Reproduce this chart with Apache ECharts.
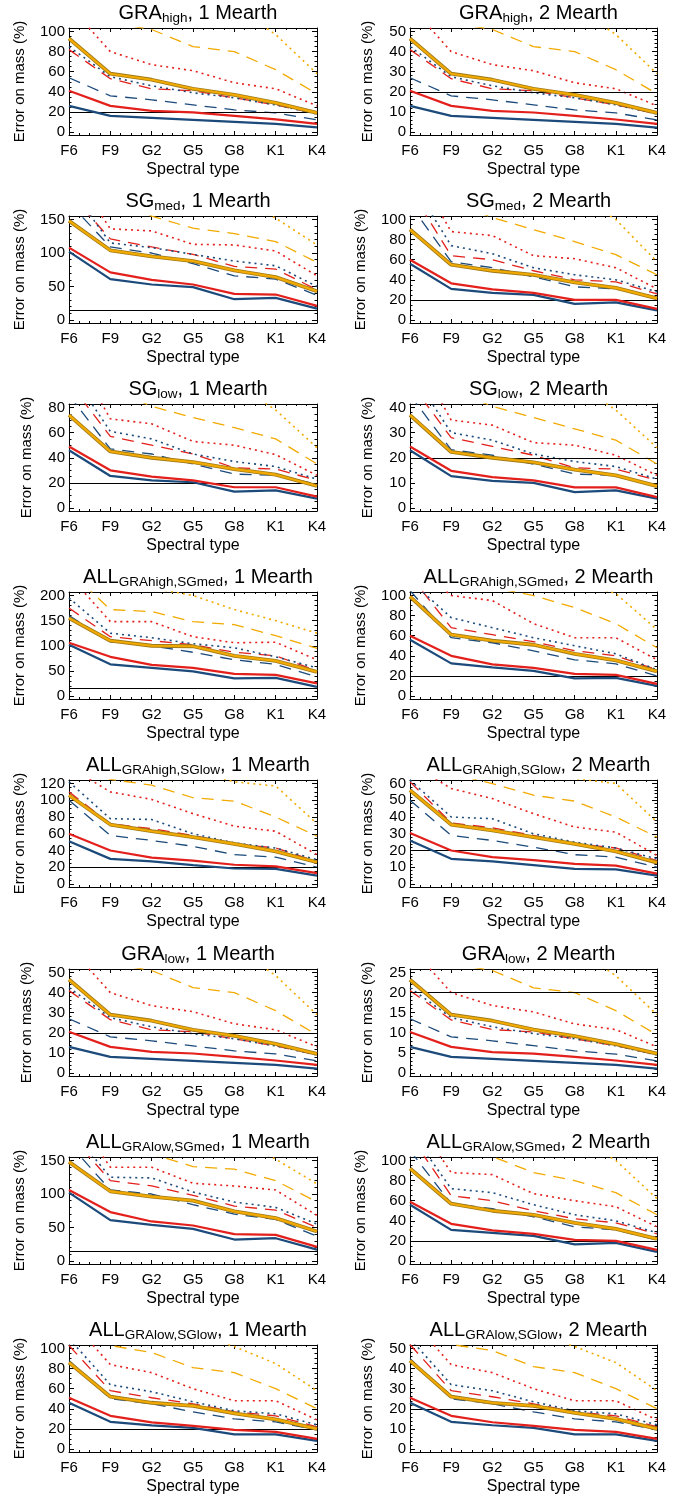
<!DOCTYPE html>
<html><head><meta charset="utf-8">
<script src="https://cdn.jsdelivr.net/npm/echarts@6/dist/echarts.min.js"></script>
<style>html,body{margin:0;padding:0;background:#fff}#c{width:694px;height:1502px}</style>
</head><body><div id="c"></div>
<script>
// ---------------- DATA ----------------
const categories = ['F6','F9','G2','G5','G8','K1','K4'];
// curve order inside each panel array:
// navy solid, red solid, navy dashed, red dashed, navy dotted, red dotted, orange solid, orange dashed, orange dotted
const GRAhigh_1 = [
  [26, 16, 14, 12, 10, 8, 4.5],
  [41, 26, 21, 19.5, 16, 12.5, 8],
  [54, 36, 32, 27, 22, 19, 12],
  [82, 53, 43, 41, 34, 27, 18],
  [85, 55, 46, 39, 34, 27, 18],
  [126, 80, 67, 61, 49, 43, 26],
  [93, 58, 52, 43, 37, 29, 19],
  [150, 109, 102, 85, 80, 62, 38],
  [250, 200, 160, 140, 125, 97, 58]
];
const GRAhigh_2 = [
  [13, 8, 7, 6, 5, 4, 2.2],
  [20.5, 13, 10.5, 9.7, 8, 6.2, 4],
  [27, 18, 16, 13.5, 11, 9.5, 6],
  [41, 26.5, 21.5, 20.5, 17, 13.5, 9],
  [42.5, 27.5, 23, 19.5, 17, 13.5, 9],
  [63, 40, 33.5, 30.5, 24.5, 21.5, 13],
  [46.5, 29, 26, 21.5, 18.5, 14.5, 9.5],
  [75, 54.5, 51, 42.5, 40, 31, 19],
  [125, 100, 80, 70, 62.5, 48.5, 29]
];
const SGmed_1 = [
  [102, 61, 53, 49, 31, 33, 17],
  [108, 71, 60, 53, 39, 38, 21],
  [175, 109, 100, 84, 66, 61, 37],
  [190, 121, 109, 98, 80, 76, 45],
  [200, 115, 108, 98, 88, 81, 50],
  [230, 136, 133, 113, 112, 103, 66],
  [148, 104, 95, 88, 74, 64, 43],
  [240, 180, 155, 137, 129, 117, 86],
  [350, 280, 240, 210, 185, 152, 112]
];
const SGmed_2 = [
  [56, 31, 27, 25, 16, 17.5, 9.5],
  [60, 36.5, 30.5, 27, 20, 20, 11],
  [115, 58, 52, 43, 33, 31, 23],
  [130, 64, 60, 49, 40, 38, 26],
  [140, 74, 66, 52, 45, 40, 28],
  [160, 88, 84, 64, 61, 52, 31],
  [90, 55, 49, 45, 37.5, 32, 21.5],
  [150, 118, 102, 90, 78, 65, 45],
  [260, 210, 170, 145, 125, 100, 58]
];
const SGlow_1 = [
  [46, 25.5, 22, 20.5, 13, 14, 7.5],
  [49, 30, 25, 22, 16.5, 16.5, 9],
  [90, 47, 43, 35, 27, 26, 19],
  [100, 57, 50, 43, 32, 31, 22],
  [110, 61, 55, 43, 37, 33, 23],
  [130, 71, 67, 53, 50, 42.5, 26],
  [74, 45, 40, 36.5, 31, 26.5, 17.5],
  [120, 95, 81, 72, 64, 55, 35],
  [200, 170, 140, 120, 100, 78, 48]
];
const SGlow_2 = [
  [23, 12.7, 10.8, 10, 6.3, 7, 3.7],
  [24.5, 14.8, 12.3, 11, 8.2, 8.2, 4.3],
  [45, 23.2, 21, 17.5, 13.5, 13, 9],
  [50, 28, 24.5, 21, 16, 15.5, 11],
  [55, 30, 27, 21.5, 18.5, 16.5, 11.5],
  [65, 35, 33, 26, 25, 21, 13],
  [37, 22.3, 20, 18.2, 15.3, 13, 8.7],
  [60, 47, 40.5, 36, 31.5, 27, 17.5],
  [100, 85, 70, 60, 50, 39, 24]
];
const ALL_GRAhigh_SGmed_1 = [
  [102, 63, 56, 49, 35, 36, 18],
  [106, 78, 62, 56, 44, 42, 25],
  [160, 108, 100, 87, 72, 63, 38],
  [175, 118, 110, 102, 87, 80, 50],
  [195, 125, 116, 104, 96, 78, 56],
  [240, 148, 148, 118, 106, 107, 72],
  [155, 110, 100, 99, 80, 70, 48],
  [250, 172, 168, 148, 142, 120, 95],
  [300, 240, 215, 200, 172, 150, 125]
];
const ALL_GRAhigh_SGmed_2 = [
  [56, 32.5, 28.5, 25, 17.5, 18, 10],
  [60, 40, 31.5, 28, 22, 21, 12],
  [105, 58, 53, 45, 36, 32, 20],
  [120, 68, 61, 54, 45, 40, 26],
  [115, 78, 68, 58, 50, 42, 26],
  [135, 100, 95, 72, 58, 58, 36],
  [99, 61, 55, 51, 42, 35.5, 24.5],
  [140, 120, 108, 100, 88, 72, 48],
  [200, 160, 140, 125, 115, 102, 66]
];
const ALL_GRAhigh_SGlow_1 = [
  [51, 30, 27, 22.5, 18.5, 18, 10],
  [60, 40, 31.5, 28, 23, 21, 13],
  [100, 58, 52, 45, 35, 32, 20],
  [110, 72, 66, 58, 48, 43, 27],
  [122, 78, 77, 60, 49, 43, 29],
  [140, 110, 101, 84, 69, 63, 35],
  [106, 71, 63, 56, 48, 39, 26],
  [150, 125, 118, 103, 99, 80, 57],
  [200, 170, 150, 135, 122, 117, 72]
];
const ALL_GRAhigh_SGlow_2 = [
  [26, 15, 13.5, 11.3, 9, 8.7, 5],
  [30.5, 20, 16, 14.3, 12, 11, 6.2],
  [50, 29, 26, 22, 17.5, 16, 10],
  [61, 36.5, 33.5, 29, 24, 21.5, 14],
  [62, 40, 39, 30, 25, 21.5, 15],
  [72, 57, 51, 42, 34, 31, 17],
  [56, 35.5, 32, 28, 24, 19.5, 12.8],
  [78, 66, 60, 53, 49.5, 40, 28],
  [100, 85, 75, 68, 63, 60, 37]
];
const GRAlow_1 = [
  [13, 8, 7, 6, 5, 4, 2.2],
  [20.5, 13, 10.5, 9.7, 8, 6.2, 4],
  [27, 18, 16, 13.5, 11, 9.5, 6],
  [41, 26.5, 21.5, 20.5, 17, 13.5, 9],
  [42.5, 27.5, 23, 19.5, 17, 13.5, 9],
  [63, 40, 33.5, 30.5, 24.5, 21.5, 13],
  [46.5, 29, 26, 21.5, 18.5, 14.5, 9.5],
  [75, 54.5, 51, 42.5, 40, 31, 19],
  [125, 100, 80, 70, 62.5, 48.5, 29]
];
const GRAlow_2 = [
  [6.5, 4, 3.5, 3, 2.5, 2, 1.1],
  [10.2, 6.5, 5.2, 4.8, 4, 3.1, 2],
  [13.5, 9, 8, 6.8, 5.5, 4.7, 3],
  [20.5, 13.2, 10.8, 10.2, 8.5, 6.8, 4.5],
  [21.2, 13.8, 11.5, 9.8, 8.5, 6.8, 4.5],
  [31.5, 20, 16.8, 15.2, 12.2, 10.8, 6.5],
  [23.2, 14.5, 13, 10.8, 9.2, 7.2, 4.8],
  [37.5, 27.2, 25.5, 21.2, 20, 15.5, 9.5],
  [62.5, 50, 40, 35, 31.2, 24.2, 14.5]
];
const ALL_GRAlow_SGmed_1 = [
  [102, 61, 54, 48, 32, 34, 17],
  [106, 73, 59, 53, 40, 39, 21],
  [175, 106, 100, 84, 70, 62, 37],
  [190, 120, 112, 98, 82, 76, 50],
  [200, 125, 124, 103, 88, 80, 55],
  [230, 140, 140, 116, 112, 106, 68],
  [148, 104, 96, 90, 74, 64, 44],
  [250, 185, 160, 141, 137, 120, 88],
  [350, 280, 240, 210, 185, 152, 115]
];
const ALL_GRAlow_SGmed_2 = [
  [56, 31, 28, 25, 16.5, 18, 9],
  [59, 37, 30.5, 27, 21, 20, 11],
  [110, 57, 52, 44, 34, 31, 21],
  [125, 65, 60, 50, 42, 38, 27],
  [130, 72, 68, 56, 46, 40, 28],
  [150, 88, 86, 67, 60, 54, 34],
  [92, 57, 50, 46, 38, 32, 22],
  [150, 118, 104, 88, 80, 68, 46],
  [260, 210, 175, 145, 125, 100, 62]
];
const ALL_GRAlow_SGlow_1 = [
  [46, 27, 23.5, 21, 14.5, 14.5, 8],
  [51, 33, 26.5, 23, 19, 17, 10],
  [88, 50, 45, 37, 30, 27, 19],
  [103, 58, 51, 45, 37, 33, 22],
  [110, 64, 57, 47, 38, 35, 24],
  [130, 84, 76, 60, 48, 48, 29],
  [86, 52, 46, 43, 35.5, 29.5, 20],
  [140, 103, 96, 81, 76, 60, 40],
  [200, 150, 130, 115, 102, 85, 58]
];
const ALL_GRAlow_SGlow_2 = [
  [23, 13.5, 11.8, 10.5, 7.3, 7.3, 4],
  [25.5, 16.5, 13.3, 11.5, 9.5, 8.5, 5],
  [45, 25, 22.5, 18.5, 15, 13.5, 9.5],
  [52, 29, 26, 22.5, 18.5, 16.5, 11],
  [55, 32, 29, 23.5, 19, 17.5, 12],
  [65, 42, 38, 30, 24, 24, 14.5],
  [44, 26, 23, 21.5, 18, 15, 10],
  [70, 52, 49, 41, 38, 30, 20],
  [100, 75, 65, 58, 51, 43, 29]
];
const panels = [GRAhigh_1, GRAhigh_2, SGmed_1, SGmed_2, SGlow_1, SGlow_2,
  ALL_GRAhigh_SGmed_1, ALL_GRAhigh_SGmed_2, ALL_GRAhigh_SGlow_1, ALL_GRAhigh_SGlow_2,
  GRAlow_1, GRAlow_2, ALL_GRAlow_SGmed_1, ALL_GRAlow_SGmed_2, ALL_GRAlow_SGlow_1, ALL_GRAlow_SGlow_2];
const titleMain = ['GRA','GRA','SG','SG','SG','SG','ALL','ALL','ALL','ALL','GRA','GRA','ALL','ALL','ALL','ALL'];
const titleSub = ['high','high','med','med','low','low','GRAhigh,SGmed','GRAhigh,SGmed','GRAhigh,SGlow','GRAhigh,SGlow',
  'low','low','GRAlow,SGmed','GRAlow,SGmed','GRAlow,SGlow','GRAlow,SGlow'];
const titleMass = ['1 Mearth','2 Mearth'];
const yTicks = [
  [0,20,40,60,80,100],[0,10,20,30,40,50],
  [0,50,100,150],[0,20,40,60,80,100],
  [0,20,40,60,80],[0,10,20,30,40],
  [0,50,100,150,200],[0,20,40,60,80,100],
  [0,20,40,60,80,100,120],[0,10,20,30,40,50,60],
  [0,10,20,30,40,50],[0,5,10,15,20,25],
  [0,50,100,150],[0,20,40,60,80,100],
  [0,20,40,60,80,100],[0,10,20,30,40,50]
];
const refLine = [20,20,15,20,20,20,15,20,20,20,20,20,15,20,20,20];
const xLabel = 'Spectral type';
const yLabel = 'Error on mass (%)';

// ---------------- STYLE / LAYOUT ----------------
const FONT = "'Liberation Sans', Arial, Helvetica, sans-serif";
const NAVY = '#1b4a7b', RED = '#e3201b', ORANGE = '#f2aa00';
const DASH = [12, 8], DOT = [2, 4];
const curveStyles = [
  {color: NAVY, type: 'solid', width: 2.2, z: 6},
  {color: RED, type: 'solid', width: 2.2, z: 6},
  {color: NAVY, type: DASH, width: 1.3, z: 3},
  {color: RED, type: DASH, width: 1.3, z: 3},
  {color: NAVY, type: DOT, width: 1.6, z: 3},
  {color: RED, type: DOT, width: 1.6, z: 3},
  {color: ORANGE, type: 'solid', width: 2.2, z: 8, under: '#a07a18'},
  {color: ORANGE, type: DASH, width: 1.3, z: 3},
  {color: ORANGE, type: DOT, width: 1.6, z: 3}
];
const colLeft = [69, 410], colWidth = [248, 247];
const rowBottom = [135, 323, 511, 699, 887, 1076, 1264, 1452];
const plotH = 107;

const grids = [], xAxes = [], yAxes = [], series = [], titles = [];
const lineCol = '#000';
panels.forEach((data, p) => {
  const col = p % 2, row = Math.floor(p / 2);
  const left = colLeft[col], width = colWidth[col], top = rowBottom[row] - plotH;
  grids.push({left, top, width, height: plotH, containLabel: false, outerBoundsMode: 'none'});
  const ticks = yTicks[p];
  const M = ticks[ticks.length - 1], step = ticks[1] - ticks[0];
  const yMin = -0.03 * M, yMax = 1.035 * M;
  const mstep = step / (step === 20 ? 4 : 5);
  const minors = [];
  for (let k = Math.ceil(yMin / mstep); k * mstep <= yMax + 1e-9; k++) minors.push(+(k * mstep).toFixed(6));
  const xMinors = [];
  for (let k = 0; k <= 24; k++) xMinors.push(k / 4);
  const digits = String(M).length;

  // x axes
  xAxes.push({gridIndex: p, type: 'category', data: categories, position: 'bottom', boundaryGap: false,
    axisLine: {show: true, onZero: false, lineStyle: {color: lineCol, width: 1}},
    axisTick: {show: true, inside: true, length: 4, lineStyle: {color: lineCol}},
    axisLabel: {show: true, margin: 8, color: '#000', fontSize: 15, fontFamily: FONT},
    splitLine: {show: false},
    name: xLabel, nameLocation: 'middle', nameGap: 27, nameMoveOverlap: false,
    nameTextStyle: {color: '#000', fontSize: 16, fontFamily: FONT}});
  xAxes.push({gridIndex: p, type: 'category', data: categories, position: 'top', boundaryGap: false,
    axisLine: {show: true, onZero: false, lineStyle: {color: lineCol, width: 1}},
    axisTick: {show: true, inside: true, length: 4, lineStyle: {color: lineCol}},
    axisLabel: {show: false}, splitLine: {show: false}});
  [ 'bottom', 'top' ].forEach(pos => xAxes.push({gridIndex: p, type: 'value', position: pos, min: 0, max: 6,
    axisLine: {show: false, onZero: false}, axisTick: {show: true, inside: true, length: 2, customValues: xMinors, lineStyle: {color: lineCol}},
    axisLabel: {show: false}, splitLine: {show: false}}));

  // y axes
  yAxes.push({gridIndex: p, type: 'value', position: 'left', min: yMin, max: yMax,
    axisLine: {show: true, onZero: false, lineStyle: {color: lineCol, width: 1}},
    axisTick: {show: true, inside: true, length: 5, customValues: ticks, lineStyle: {color: lineCol}},
    axisLabel: {show: true, customValues: ticks, margin: 4, color: '#000', fontSize: 15, fontFamily: FONT},
    splitLine: {show: false},
    name: yLabel, nameLocation: 'middle', nameGap: digits >= 3 ? 42 : 35, nameMoveOverlap: false,
    nameTextStyle: {color: '#000', fontSize: 15, fontFamily: FONT}});
  yAxes.push({gridIndex: p, type: 'value', position: 'right', min: yMin, max: yMax,
    axisLine: {show: true, onZero: false, lineStyle: {color: lineCol, width: 1}},
    axisTick: {show: true, inside: true, length: 5, customValues: ticks, lineStyle: {color: lineCol}},
    axisLabel: {show: false}, splitLine: {show: false}});
  ['left', 'right'].forEach(pos => yAxes.push({gridIndex: p, type: 'value', position: pos, min: yMin, max: yMax,
    axisLine: {show: false, onZero: false}, axisTick: {show: true, inside: true, length: 2.5, customValues: minors, lineStyle: {color: lineCol}},
    axisLabel: {show: false}, splitLine: {show: false}}));

  // series
  data.forEach((vals, i) => {
    const st = curveStyles[i];
    const base = {type: 'line', xAxisIndex: 4 * p, yAxisIndex: 4 * p, data: vals, showSymbol: false, symbol: 'none',
      silent: true, animation: false, clip: true};
    if (st.under) {
      series.push(Object.assign({}, base, {z: st.z - 1, lineStyle: {color: st.under, width: st.width + 1.6, type: 'solid'}}));
    }
    const s = Object.assign({}, base, {z: st.z, lineStyle: {color: st.color, width: st.width, type: st.type}});
    if (i === 0) {
      s.markLine = {silent: true, symbol: 'none', animation: false, label: {show: false},
        lineStyle: {color: '#000', width: 1.2, type: 'solid'}, data: [{yAxis: refLine[p]}]};
    }
    series.push(s);
  });

  titles.push({left: left + width / 2, top: top - 31, textAlign: 'center',
    text: '{m|' + titleMain[p] + '}{s|' + titleSub[p] + '}{m|, ' + titleMass[col] + '}',
    textStyle: {fontWeight: 'normal', rich: {
      m: {fontSize: 20, fontWeight: 'normal', fontFamily: FONT, color: '#000', lineHeight: 23},
      s: {fontSize: 13.5, fontWeight: 'normal', fontFamily: FONT, color: '#000', lineHeight: 11, verticalAlign: 'bottom'}
    }}});
});

const chart = echarts.init(document.getElementById('c'), null, {renderer: 'canvas', width: 694, height: 1502});
chart.setOption({animation: false, backgroundColor: '#fff', title: titles, grid: grids, xAxis: xAxes, yAxis: yAxes, series});
</script></body></html>
